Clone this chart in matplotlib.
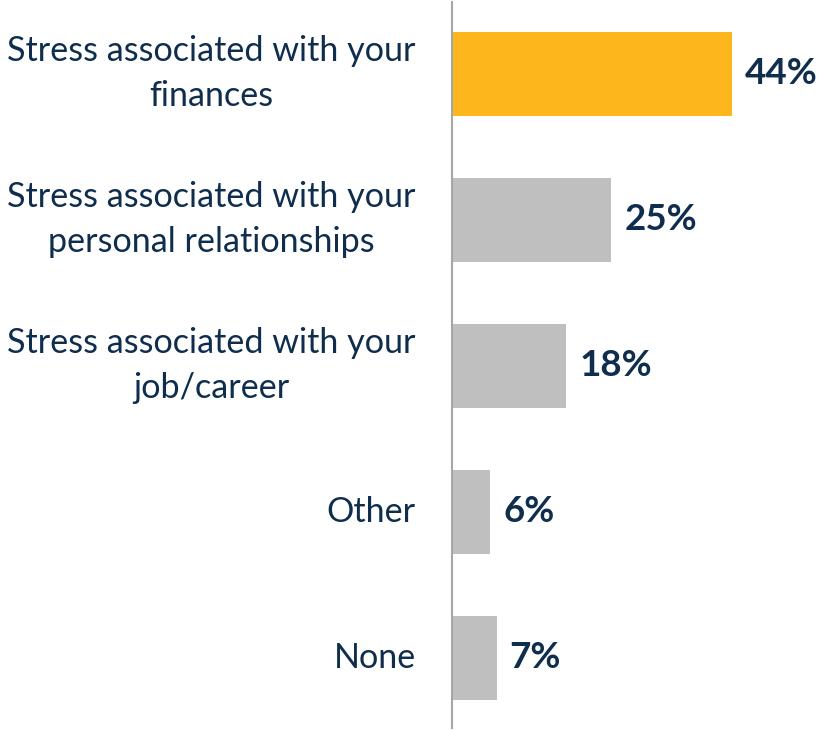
import matplotlib
matplotlib.use("Agg")
import matplotlib.pyplot as plt

categories = [
    "Stress associated with your\nfinances",
    "Stress associated with your\npersonal relationships",
    "Stress associated with your\njob/career",
    "Other",
    "None",
]
values = [44, 25, 18, 6, 7]
value_labels = ["44%", "25%", "18%", "6%", "7%"]
bar_colors = ["#FDB71D", "#BFBFBF", "#BFBFBF", "#BFBFBF", "#BFBFBF"]

W, H = 819, 730
fig = plt.figure(figsize=(W / 100, H / 100), dpi=100)
ax = fig.add_axes([452 / W, 2 / H, (W - 452) / W, (728 - 2) / H])

ys = list(range(len(categories)))
ax.barh(ys, values, height=0.575, color=bar_colors, zorder=2)
ax.set_ylim(4.48, -0.49)
ax.set_xlim(0, 57.7)

text_color = "#0F2D4C"
for y, v, lab in zip(ys, values, value_labels):
    ax.annotate(lab, xy=(v, y), xytext=(9.5, 0), textcoords="offset points",
                ha="left", va="center", fontsize=26.5, fontweight="bold",
                color=text_color, family="Lato")

for y, cat in zip(ys, categories):
    ax.annotate(cat, xy=(0, y), xycoords=("axes fraction", "data"),
                xytext=(-26, 0), textcoords="offset points",
                ha="right", va="center", ma="center", fontsize=24.6,
                color=text_color, family="Lato", linespacing=1.5)

for s in ["top", "right", "bottom"]:
    ax.spines[s].set_visible(False)
ax.spines["left"].set_color("#A6A6A6")
ax.spines["left"].set_linewidth(1.5)
ax.set_xticks([])
ax.set_yticks([])

fig.savefig("out.png", dpi=100)
